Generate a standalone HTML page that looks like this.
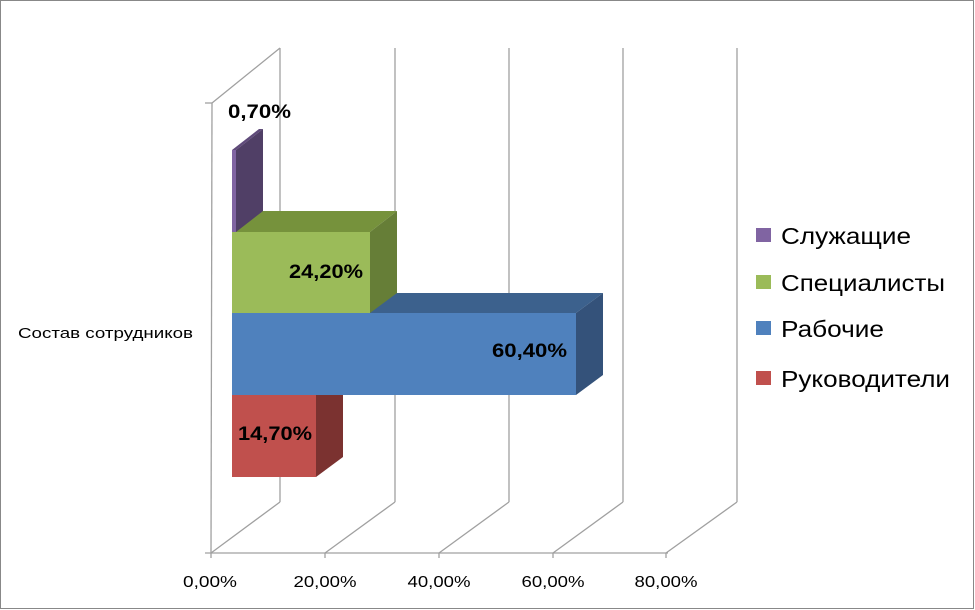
<!DOCTYPE html>
<html><head><meta charset="utf-8"><style>
body{margin:0;background:#fff}
svg{display:block}
text{font-family:"Liberation Sans","DejaVu Sans",sans-serif}
</style></head><body>
<svg width="975" height="610" viewBox="0 0 975 610">
<rect x="0.5" y="0.5" width="973" height="608" fill="#fff" stroke="#888"/>
<g stroke="#a0a0a0" stroke-width="1.3" fill="none">
<line x1="212" y1="103" x2="211" y2="553"/>
<line x1="212" y1="103" x2="280" y2="48"/>
<line x1="205" y1="103" x2="212" y2="103"/>
<line x1="205" y1="553" x2="668" y2="553"/>
<line x1="280" y1="48" x2="280" y2="502"/>
<line x1="395" y1="48" x2="395" y2="502"/>
<line x1="509" y1="48" x2="509" y2="502"/>
<line x1="623" y1="48" x2="623" y2="502"/>
<line x1="737" y1="48" x2="737" y2="502"/>
<line x1="211" y1="553" x2="280" y2="502"/>
<line x1="325" y1="553" x2="395" y2="502"/>
<line x1="439" y1="553" x2="509" y2="502"/>
<line x1="553" y1="553" x2="623" y2="502"/>
<line x1="666" y1="553" x2="737" y2="502"/>
<line x1="211" y1="553" x2="211" y2="558"/>
<line x1="325" y1="553" x2="325" y2="558"/>
<line x1="439" y1="553" x2="439" y2="558"/>
<line x1="553" y1="553" x2="553" y2="558"/>
<line x1="666" y1="553" x2="666" y2="558"/>
</g>
<polygon points="316,395 343,375 343,457 316,477" fill="#7b3230"/>
<rect x="232" y="395" width="84" height="82" fill="#c0504d"/>
<polygon points="232,313 259,293 603,293 576,313" fill="#3c618d"/>
<polygon points="576,313 603,293 603,375 576,395" fill="#34527a"/>
<rect x="232" y="313" width="344" height="82" fill="#4f81bd"/>
<polygon points="232,232 259,211 397,211 370,232" fill="#76923c"/>
<polygon points="370,232 397,211 397,293 370,313" fill="#667e37"/>
<rect x="232" y="232" width="138" height="81" fill="#9bbb59"/>
<polygon points="232,150 259,129 263,129 236,150" fill="#5f4a7a"/>
<polygon points="236,150 263,129 263,211 236,232" fill="#503f66"/>
<rect x="232" y="150" width="4" height="82" fill="#8064a2"/>
<g font-weight="bold" font-size="19" fill="#000">
<text x="228" y="118" textLength="63" lengthAdjust="spacingAndGlyphs">0,70%</text>
<text x="289" y="278" textLength="74" lengthAdjust="spacingAndGlyphs">24,20%</text>
<text x="492" y="357" textLength="75" lengthAdjust="spacingAndGlyphs">60,40%</text>
<text x="238" y="440" textLength="74" lengthAdjust="spacingAndGlyphs">14,70%</text>
</g>
<text x="18" y="338" font-size="15" textLength="175" lengthAdjust="spacingAndGlyphs">Состав сотрудников</text>
<g font-size="16" text-anchor="middle">
<text x="210" y="587" textLength="54" lengthAdjust="spacingAndGlyphs">0,00%</text>
<text x="325" y="587" textLength="63" lengthAdjust="spacingAndGlyphs">20,00%</text>
<text x="439" y="587" textLength="63" lengthAdjust="spacingAndGlyphs">40,00%</text>
<text x="553" y="587" textLength="63" lengthAdjust="spacingAndGlyphs">60,00%</text>
<text x="666" y="587" textLength="63" lengthAdjust="spacingAndGlyphs">80,00%</text>
</g>
<rect x="756" y="228" width="15" height="14" fill="#8064a2"/>
<rect x="756" y="275" width="15" height="14" fill="#9bbb59"/>
<rect x="756" y="321" width="15" height="14" fill="#4f81bd"/>
<rect x="756" y="371" width="15" height="14" fill="#c0504d"/>
<g font-size="23">
<text x="781" y="244" textLength="130" lengthAdjust="spacingAndGlyphs">Служащие</text>
<text x="781" y="291" textLength="164" lengthAdjust="spacingAndGlyphs">Специалисты</text>
<text x="781" y="337" textLength="103" lengthAdjust="spacingAndGlyphs">Рабочие</text>
<text x="781" y="387" textLength="169" lengthAdjust="spacingAndGlyphs">Руководители</text>
</g>
</svg>
</body></html>
